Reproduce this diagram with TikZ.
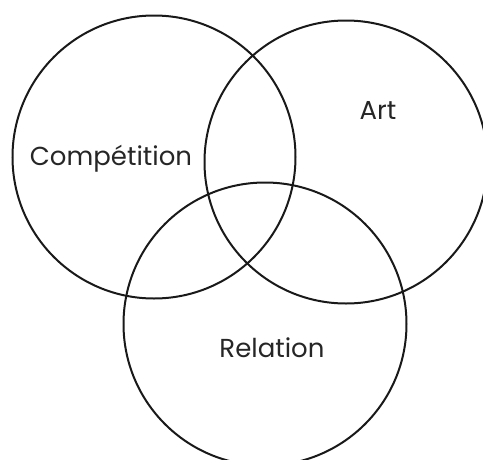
\documentclass[tikz,border=0pt]{standalone}
\usepackage{fontspec}
\setmainfont{Poppins}
\begin{document}
\begin{tikzpicture}[x=1pt,y=-1pt,
  ring/.style={circle,draw=black!90,line width=2pt,minimum size=283pt,inner sep=0pt},
  lbl/.style={font=\fontsize{26}{30}\selectfont,text=black!85,inner sep=0pt}]
\useasboundingbox (0,0) rectangle (483,459);
\clip (0,0) rectangle (483,459);
\node[ring] (c1) at (154,157) {};
\node[ring] (c2) at (346,162) {};
\node[ring] (c3) at (265,324) {};
\node[lbl] (t1) at (111,159) {Compétition};
\node[lbl] (t2) at (378,110) {Art};
\node[lbl] (t3) at (272,348) {Relation};
\end{tikzpicture}
\end{document}
